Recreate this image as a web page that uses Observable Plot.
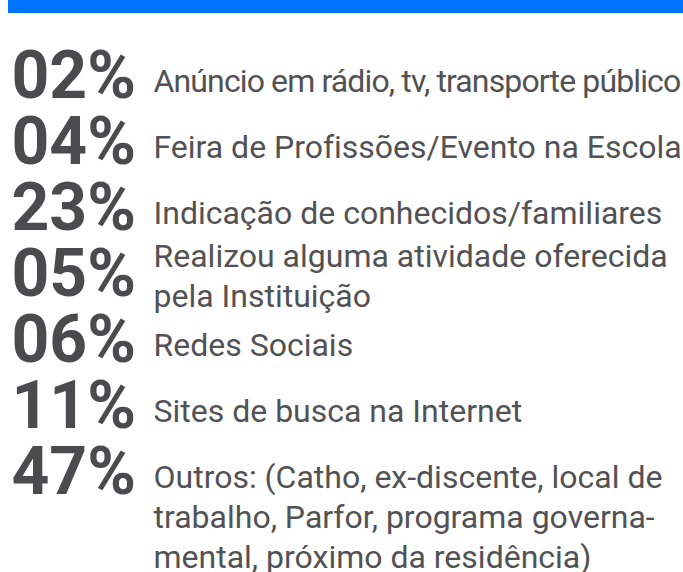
<!DOCTYPE html>
<html><head><meta charset="utf-8">
<script src="https://cdn.jsdelivr.net/npm/d3@7"></script>
<script src="https://cdn.jsdelivr.net/npm/@observablehq/plot@0.6"></script>
<style>
body{margin:0;background:#fff;font-family:Roboto,sans-serif;}
#bar{height:13px;margin-left:8px;background:#0073ff;}
#chart svg{display:block;}
</style></head><body>
<div id="bar"></div>
<div id="chart"></div>
<script>
const percentuais = ["02%", "04%", "23%", "05%", "06%", "11%", "47%"];
const motivos = [
  "Anúncio em rádio, tv, transporte público",
  "Feira de Profissões/Evento na Escola",
  "Indicação de conhecidos/familiares",
  "Realizou alguma atividade oferecida\npela Instituição",
  "Redes Sociais",
  "Sites de busca na Internet",
  "Outros: (Catho, ex-discente, local de\ntrabalho, Parfor, programa governa-\nmental, próximo da residência)"
];

const rows = percentuais.map((p, i) => ({
  pct: p,
  motivo: motivos[i],
  // a multi-line label that has another row below it is lifted to leave room
  lifted: motivos[i].includes("\n") && i < percentuais.length - 1
}));

const labelStyle = {
  y: "pct", text: "motivo", frameAnchor: "left", textAnchor: "start", lineAnchor: "top",
  lineHeight: 1.25, dx: 153, fontSize: 32, fill: "#525254"
};

const plot = Plot.plot({
  width: 683,
  height: 559,
  margin: 0,
  style: {fontFamily: "Roboto, sans-serif", background: "#fff"},
  y: {type: "point", domain: percentuais, range: [82, 482], padding: 0, axis: null},
  marks: [
    Plot.text(rows, {
      y: "pct", text: "pct", frameAnchor: "left", textAnchor: "start", lineAnchor: "bottom",
      dx: 11, fontSize: 66, fontWeight: 700, fill: "#4b4b4d"
    }),
    Plot.text(rows.filter(d => !d.lifted), {...labelStyle, dy: -34}),
    Plot.text(rows.filter(d => d.lifted), {...labelStyle, dy: -57})
  ]
});
document.getElementById("chart").appendChild(plot);

// squeeze labels that would overflow the right edge, as in the original layout
const maxW = 683 - 153 - 3;
d3.select(plot).selectAll("g[aria-label=text]").filter((d, i) => i > 0).selectAll("text").each(function () {
  const w = this.getBBox().width;
  if (w > maxW) {
    const chars = this.textContent.length;
    this.setAttribute("letter-spacing", ((maxW - w) / chars).toFixed(2) + "px");
  }
});
</script>
</body></html>
